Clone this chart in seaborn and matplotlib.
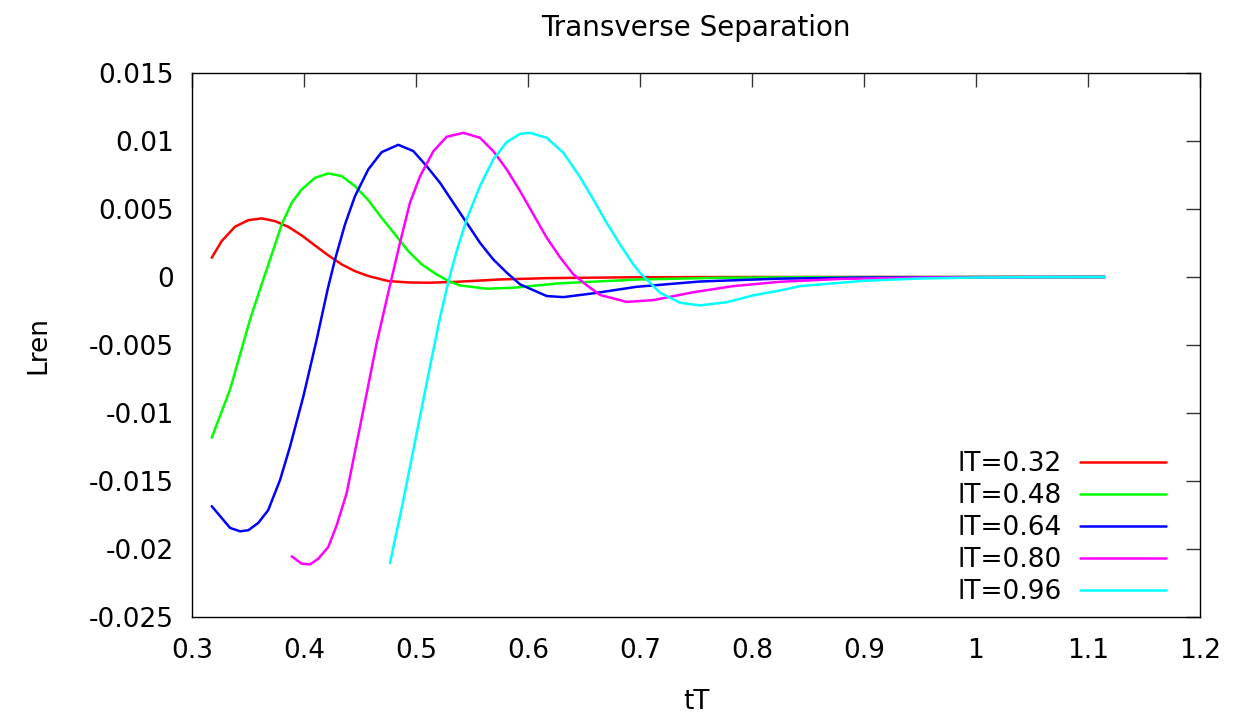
import matplotlib
matplotlib.use("Agg")
import matplotlib.pyplot as plt
import seaborn as sns
import pandas as pd
from matplotlib.ticker import FormatStrFormatter, FixedLocator

labels = ["lT=0.32", "lT=0.48", "lT=0.64", "lT=0.80", "lT=0.96"]
colors = ["#ff0000", "#00ff00", "#0000ff", "#ff00ff", "#00ffff"]
x_ticks = [0.3, 0.4, 0.5, 0.6, 0.7, 0.8, 0.9, 1.0, 1.1, 1.2]
y_ticks = [-0.025, -0.02, -0.015, -0.01, -0.005, 0, 0.005, 0.01, 0.015]

x_032 = [0.3176, 0.3265, 0.3384, 0.3503, 0.3622, 0.3741, 0.3860, 0.3979, 0.4098, 0.4217, 0.4336, 0.4455,
         0.4574, 0.4753, 0.4931, 0.5110, 0.535, 0.575, 0.62, 0.694, 0.80, 0.90, 1.0, 1.115]
y_032 = [0.00142, 0.00264, 0.00370, 0.00418, 0.00431, 0.00411, 0.00369, 0.00306, 0.00232, 0.00159, 0.00093,
         0.00043, 0.00007, -0.00030, -0.00040, -0.00042, -0.00036, -0.00018, -0.00008, -0.00002, 0.0, 0.0,
         0.0, 0.0]

x_048 = [0.3176, 0.334, 0.3518, 0.3607, 0.3712, 0.3801, 0.389, 0.3979, 0.4098, 0.4217, 0.4336, 0.4455,
         0.4574, 0.4693, 0.4813, 0.4931, 0.5051, 0.5170, 0.5290, 0.5393, 0.5631, 0.5869, 0.6286, 0.70,
         0.77, 0.85, 1.0, 1.115]
y_048 = [-0.01182, -0.00827, -0.00313, -0.00091, 0.00166, 0.00387, 0.00546, 0.00644, 0.00729, 0.00762,
         0.00742, 0.00668, 0.00565, 0.00435, 0.00313, 0.00190, 0.00093, 0.00026, -0.00030, -0.00062,
         -0.00086, -0.00079, -0.00046, -0.00018, -0.00006, -0.00001, 0.0, 0.0]

x_064 = [0.3176, 0.334, 0.343, 0.3503, 0.3592, 0.368, 0.3786, 0.3875, 0.3994, 0.4113, 0.4211, 0.4277,
         0.4366, 0.4455, 0.4574, 0.4693, 0.4842, 0.4976, 0.5095, 0.5214, 0.5333, 0.5452, 0.5571, 0.569,
         0.5810, 0.5929, 0.6167, 0.6315, 0.6583, 0.6970, 0.7536, 0.825, 0.90, 1.0, 1.115]
y_064 = [-0.01685, -0.01845, -0.01870, -0.01862, -0.01808, -0.01715, -0.01493, -0.01248, -0.00879,
         -0.00461, -0.00091, 0.00129, 0.00387, 0.00594, 0.00791, 0.00918, 0.00972, 0.00926, 0.00815,
         0.00693, 0.00546, 0.00399, 0.00252, 0.00129, 0.00032, -0.00054, -0.00140, -0.00148, -0.00120,
         -0.00072, -0.00033, -0.00012, -0.00004, -0.00001, 0.0]

x_080 = [0.389, 0.3979, 0.4054, 0.4128, 0.4217, 0.4292, 0.438, 0.4470, 0.456, 0.4649, 0.4738, 0.4857,
         0.4946, 0.5036, 0.5155, 0.5274, 0.5423, 0.5571, 0.569, 0.581, 0.5929, 0.6048, 0.6167, 0.6286,
         0.6405, 0.6524, 0.6643, 0.6881, 0.7119, 0.7476, 0.7833, 0.825, 0.88, 0.95, 1.02, 1.115]
y_080 = [-0.02054, -0.02108, -0.02113, -0.02071, -0.01985, -0.01825, -0.01592, -0.01223, -0.00854,
         -0.00485, -0.00166, 0.00252, 0.00546, 0.00741, 0.00925, 0.01031, 0.01060, 0.01024, 0.00925,
         0.00791, 0.00632, 0.00460, 0.00289, 0.00145, 0.00019, -0.00060, -0.00132, -0.00183, -0.00170,
         -0.00112, -0.00067, -0.00035, -0.00014, -0.00004, -0.00001, 0.0]

x_096 = [0.4768, 0.4887, 0.5006, 0.5125, 0.5214, 0.5290, 0.5363, 0.5452, 0.5571, 0.569, 0.581, 0.5929,
         0.6018, 0.6167, 0.6315, 0.6464, 0.6583, 0.6702, 0.6821, 0.694, 0.7, 0.7179, 0.7357, 0.7536,
         0.7774, 0.8012, 0.825, 0.8429, 0.90, 0.95, 1.0, 1.06, 1.115]
y_096 = [-0.02103, -0.01641, -0.01149, -0.00658, -0.00300, -0.00030, 0.00190, 0.00424, 0.00668, 0.00865,
         0.00992, 0.01053, 0.01060, 0.01024, 0.00914, 0.00735, 0.00570, 0.00399, 0.00240, 0.00093,
         0.00031, -0.00116, -0.00189, -0.00209, -0.00185, -0.00135, -0.00099, -0.00067, -0.00028,
         -0.00011, -0.00004, -0.00001, 0.0]

xs = [x_032, x_048, x_064, x_080, x_096]
ys = [y_032, y_048, y_064, y_080, y_096]

frames = []
for lab, xv, yv in zip(labels, xs, ys):
    frames.append(pd.DataFrame({"tT": xv, "Lren": yv, "series": lab}))
df = pd.concat(frames, ignore_index=True)

sns.set_style("white")
plt.rcParams["font.family"] = ["DejaVu Sans"]
plt.rcParams["axes.unicode_minus"] = False
plt.rcParams["text.color"] = "black"
plt.rcParams["axes.labelcolor"] = "black"
FS = 19

fig = plt.figure(figsize=(12.55, 7.13), dpi=100)
ax = fig.add_axes([192/1255, 1-617/713, (1200-192)/1255, (617-73)/713])

sns.lineplot(data=df, x="tT", y="Lren", hue="series", palette=colors, hue_order=labels,
             sort=False, estimator=None, units="series", linewidth=1.8, ax=ax, legend=False)

ax.set_xlim(0.3, 1.2)
ax.set_ylim(-0.025, 0.015)
ax.xaxis.set_major_locator(FixedLocator(x_ticks))
ax.yaxis.set_major_locator(FixedLocator(y_ticks))
ax.xaxis.set_major_formatter(FormatStrFormatter("%g"))
ax.yaxis.set_major_formatter(FormatStrFormatter("%g"))
ax.tick_params(direction="in", length=10, width=1, color="#333333", top=True, right=True,
               labelsize=FS, labelcolor="black")
ax.tick_params(axis="x", pad=15)
ax.tick_params(axis="y", pad=13)
for s in ax.spines.values():
    s.set_color("black")
    s.set_linewidth(1)
    s.set_visible(True)

ax.set_xlabel("tT", fontsize=FS, labelpad=18, color="black")
ax.set_ylabel("Lren", fontsize=FS, labelpad=27, color="black")
ax.set_title("Transverse Separation", fontsize=20, pad=27, color="black")

handles = [plt.Line2D([], [], color=c, lw=1.8) for c in colors]
leg = ax.legend(handles, labels, loc="lower right", bbox_to_anchor=(1176.5/1255, 1-616/713),
                bbox_transform=fig.transFigure, frameon=False, markerfirst=False, fontsize=FS,
                handlelength=3.26, handletextpad=0.68, labelspacing=0.234, borderaxespad=0)
for t in leg.get_texts():
    t.set_color("black")

fig.savefig("out.png", dpi=100)
